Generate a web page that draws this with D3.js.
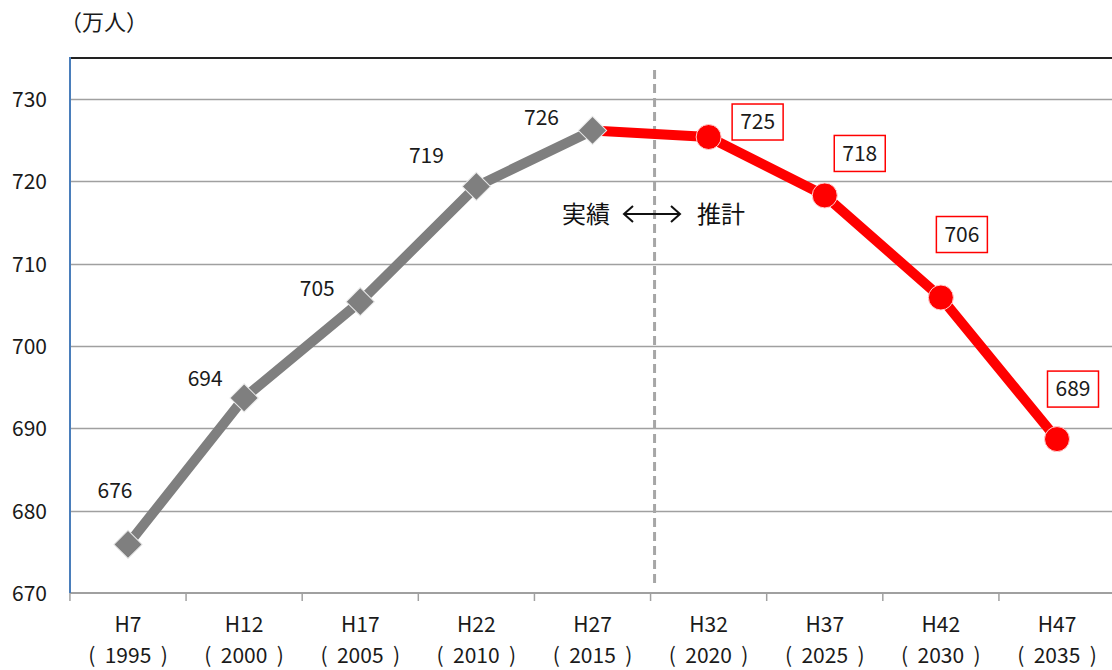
<!DOCTYPE html>
<html>
<head>
<meta charset="utf-8">
<script src="https://cdn.jsdelivr.net/npm/d3@7"></script>
<style>
  html, body { margin: 0; padding: 0; background: #fff; }
  svg { display: block; font-family: "Noto Sans CJK JP", "Noto Sans", sans-serif; }
</style>
</head>
<body>
<svg id="chart" width="1112" height="670"></svg>
<script>
// Population (10,000 persons): actual figures and projections
const eras = ["H7", "H12", "H17", "H22", "H27", "H32", "H37", "H42", "H47"];
const years = ["1995", "2000", "2005", "2010", "2015", "2020", "2025", "2030", "2035"];
const actual = [675.9, 693.7, 705.4, 719.4, 726.2];          // H7 – H27
const projected = [726.2, 725.4, 718.3, 705.9, 688.7];       // H27 – H47 (starts at last actual)
const yTicks = [670, 680, 690, 700, 710, 720, 730];

// Hand-placed label offsets (dx, dy from each point)
const actualLabelOffsets = [[-13, -54], [-39, -19], [-43, -13], [-50, -31], [-51, -13]];
const projLabelOffsets = [[49, -15], [35, -42], [21, -63], [16, -50]];

const svg = d3.select("#chart");
const margin = { left: 70, top: 58, bottom: 593 };
const FS = 21;

const x = d3.scalePoint().domain(eras).range([128, 1057]);
const step = x.step();
const y = d3.scaleLinear().domain([670, 735]).range([margin.bottom, margin.top]);

// Horizontal gridlines
svg.append("g")
  .selectAll("line")
  .data(yTicks.filter(d => d > 670))
  .join("line")
  .attr("x1", margin.left).attr("x2", 1112)
  .attr("y1", d => Math.round(y(d)) + 0.5).attr("y2", d => Math.round(y(d)) + 0.5)
  .attr("stroke", "#a0a0a0").attr("stroke-width", 1.3);

// Top frame line
svg.append("line")
  .attr("x1", margin.left).attr("x2", 1112)
  .attr("y1", margin.top).attr("y2", margin.top)
  .attr("stroke", "#222").attr("stroke-width", 2);

// Y axis labels
const yAxis = d3.axisLeft(y).tickValues(yTicks).tickSize(0).tickPadding(0);
const gy = svg.append("g").attr("transform", `translate(47,0)`).call(yAxis);
gy.select(".domain").remove();
gy.selectAll("text")
  .attr("font-size", FS).attr("fill", "#1a1a1a")
  .attr("font-family", "'Noto Sans CJK JP', sans-serif")
  .attr("dy", "0.35em");

// Bottom axis with category boundaries
const boundaries = d3.range(eras.length + 1).map(i => x(eras[0]) - step / 2 + i * step);
svg.append("line")
  .attr("x1", margin.left).attr("x2", 1112)
  .attr("y1", margin.bottom).attr("y2", margin.bottom)
  .attr("stroke", "#a0a0a0").attr("stroke-width", 2);
svg.append("g")
  .selectAll("line")
  .data(boundaries)
  .join("line")
  .attr("x1", d => d).attr("x2", d => d)
  .attr("y1", margin.bottom).attr("y2", margin.bottom + 8)
  .attr("stroke", "#a0a0a0").attr("stroke-width", 1.5);

// Left axis line
svg.append("line")
  .attr("x1", margin.left).attr("x2", margin.left)
  .attr("y1", margin.top - 1).attr("y2", margin.bottom)
  .attr("stroke", "#4a7ebb").attr("stroke-width", 2);

// Category labels (era + western year)
const xl = svg.append("g");
eras.forEach((e, i) => {
  const cx = x(e);
  xl.append("text").attr("x", cx).attr("y", 632)
    .attr("text-anchor", "middle").attr("font-size", FS).attr("fill", "#1a1a1a")
    .text(e);
  xl.append("text").attr("x", cx).attr("y", 663)
    .attr("text-anchor", "middle").attr("font-size", FS).attr("fill", "#1a1a1a")
    .attr("xml:space", "preserve")
    .text("(  " + years[i] + "  )");
});

// Unit label
svg.append("text").attr("x", 60).attr("y", 30)
  .attr("font-size", 22).attr("fill", "#1a1a1a").text("（万人）");

// Divider between actual and projected
const divX = (x("H27") + x("H32")) / 2 + 4;
svg.append("line")
  .attr("x1", divX).attr("x2", divX)
  .attr("y1", 70).attr("y2", 588)
  .attr("stroke", "#a6a6a6").attr("stroke-width", 3)
  .attr("stroke-dasharray", "9,5");

// Divider caption
svg.append("text").attr("x", 586).attr("y", 223)
  .attr("text-anchor", "middle").attr("font-size", 24).attr("fill", "#111").text("実績");
svg.append("text").attr("x", 721).attr("y", 223)
  .attr("text-anchor", "middle").attr("font-size", 24).attr("fill", "#111").text("推計");
const arrowY = 214;
svg.append("path")
  .attr("d", `M624,${arrowY} H680 M633,${arrowY - 8} L624,${arrowY} L633,${arrowY + 8} M671,${arrowY - 8} L680,${arrowY} L671,${arrowY + 8}`)
  .attr("fill", "none").attr("stroke", "#111").attr("stroke-width", 2);

// Series data bound to categories
const actualData = actual.map((v, i) => ({ era: eras[i], v }));
const projData = projected.map((v, i) => ({ era: eras[i + 4], v }));

const line = d3.line().x(d => x(d.era)).y(d => y(d.v));

// Projected line (red)
svg.append("path").datum(projData)
  .attr("d", line).attr("fill", "none")
  .attr("stroke", "#ff0000").attr("stroke-width", 10).attr("stroke-linejoin", "round");

// Actual line (gray)
svg.append("path").datum(actualData)
  .attr("d", line).attr("fill", "none")
  .attr("stroke", "#7f7f7f").attr("stroke-width", 10).attr("stroke-linejoin", "round");

// Actual markers: diamonds
svg.append("g").selectAll("path")
  .data(actualData)
  .join("path")
  .attr("d", d3.symbol(d3.symbolSquare, 400))
  .attr("transform", d => `translate(${x(d.era)},${y(d.v)}) rotate(45)`)
  .attr("fill", "#7f7f7f").attr("stroke", "#e8e8e8").attr("stroke-width", 1);

// Projected markers: circles
svg.append("g").selectAll("circle")
  .data(projData.slice(1))
  .join("circle")
  .attr("cx", d => x(d.era)).attr("cy", d => y(d.v)).attr("r", 12.5)
  .attr("fill", "#ff0000").attr("stroke", "#ffd0d0").attr("stroke-width", 1);

// Actual value labels
svg.append("g").selectAll("text")
  .data(actualData)
  .join("text")
  .attr("x", (d, i) => x(d.era) + actualLabelOffsets[i][0])
  .attr("y", (d, i) => y(d.v) + actualLabelOffsets[i][1])
  .attr("dy", "0.35em")
  .attr("text-anchor", "middle").attr("font-size", FS).attr("fill", "#1a1a1a")
  .text(d => d3.format(".0f")(d.v));

// Projected value labels in red boxes
const pl = svg.append("g").selectAll("g")
  .data(projData.slice(1))
  .join("g")
  .attr("transform", (d, i) => `translate(${x(d.era) + projLabelOffsets[i][0]},${y(d.v) + projLabelOffsets[i][1]})`);
pl.append("rect")
  .attr("x", -25.5).attr("y", -18).attr("width", 51).attr("height", 36)
  .attr("fill", "#fff").attr("stroke", "#ff0000").attr("stroke-width", 1.5);
pl.append("text")
  .attr("dy", "0.35em").attr("text-anchor", "middle")
  .attr("font-size", FS).attr("fill", "#1a1a1a")
  .text(d => d3.format(".0f")(d.v));
</script>
</body>
</html>
